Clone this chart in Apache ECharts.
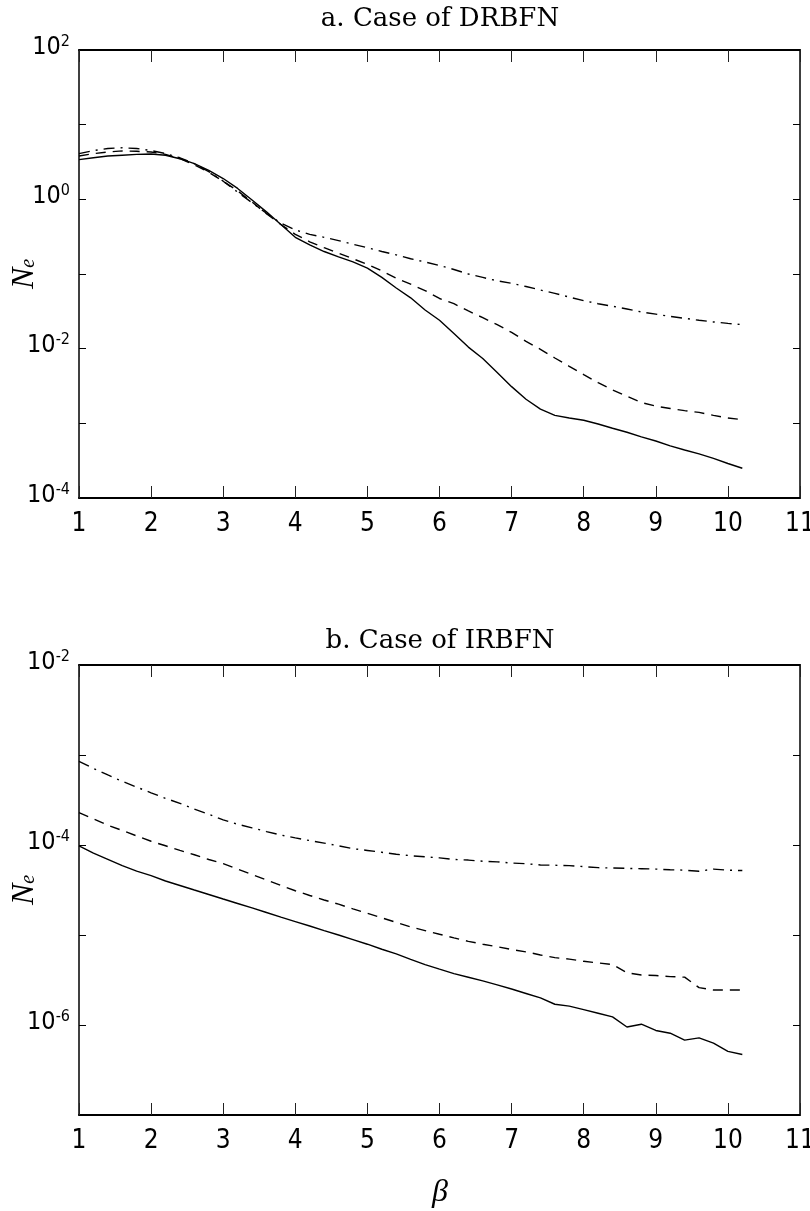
<!DOCTYPE html>
<html><head><meta charset="utf-8">
<script src="https://cdn.jsdelivr.net/npm/echarts@6/dist/echarts.min.js"></script>
<style>html,body{margin:0;padding:0;background:#fff}#c{width:810px;height:1211px}</style>
</head><body><div id="c"></div>
<script>
// ---------------- data ----------------
const beta = [1,1.2,1.4,1.6,1.8,2,2.2,2.4,2.6,2.8,3,3.2,3.4,3.6,3.8,4,4.2,4.4,4.6,4.8,5,5.2,5.4,5.6,5.8,6,6.2,6.4,6.6,6.8,7,7.2,7.4,7.6,7.8,8,8.2,8.4,8.6,8.8,9,9.2,9.4,9.6,9.8,10,10.2];
const xTickLabels = ['1','2','3','4','5','6','7','8','9','10','11'];
const panelTitles = ['a. Case of DRBFN', 'b. Case of IRBFN'];
const yName = 'N';
const ySub = 'e';
const xName = 'β';

// a. DRBFN
const drbfnSolid = [3.4,3.6,3.8,3.9,4.0,4.05,3.9,3.5,3.0,2.45,1.9,1.4,0.98,0.68,0.46,0.31,0.245,0.2,0.17,0.145,0.12,0.09,0.065,0.048,0.033,0.024,0.016,0.0105,0.0074,0.0048,0.0031,0.0021,0.00155,0.00128,0.00118,0.0011,0.00098,0.00086,0.00076,0.00066,0.00058,0.0005,0.00044,0.00039,0.00034,0.00029,0.00025];
const drbfnDashed = [3.8,4.1,4.3,4.45,4.4,4.3,4.0,3.5,2.9,2.3,1.75,1.3,0.92,0.64,0.46,0.34,0.27,0.225,0.19,0.16,0.135,0.11,0.088,0.073,0.06,0.047,0.04,0.032,0.026,0.021,0.0165,0.0125,0.0098,0.0075,0.0058,0.0045,0.0035,0.0028,0.0023,0.0019,0.0017,0.00158,0.00148,0.0014,0.00128,0.00118,0.00112];
const drbfnDashDot = [4.1,4.5,4.8,4.9,4.8,4.5,4.1,3.6,3.0,2.35,1.75,1.25,0.9,0.65,0.48,0.39,0.34,0.31,0.28,0.25,0.225,0.2,0.18,0.16,0.145,0.13,0.115,0.1,0.09,0.081,0.075,0.068,0.061,0.055,0.049,0.044,0.04,0.037,0.034,0.031,0.029,0.027,0.0255,0.024,0.0228,0.0218,0.021];

// b. IRBFN
const irbfnSolid = [9.77e-5,8.13e-5,6.92e-5,5.89e-5,5.13e-5,4.57e-5,3.98e-5,3.55e-5,3.16e-5,2.82e-5,2.51e-5,2.24e-5,2.0e-5,1.78e-5,1.58e-5,1.41e-5,1.26e-5,1.12e-5,1.0e-5,8.9e-6,7.9e-6,6.95e-6,6.17e-6,5.37e-6,4.68e-6,4.17e-6,3.72e-6,3.39e-6,3.09e-6,2.79e-6,2.51e-6,2.24e-6,2.0e-6,1.70e-6,1.62e-6,1.48e-6,1.35e-6,1.23e-6,9.5e-7,1.02e-6,8.7e-7,8.1e-7,6.8e-7,7.2e-7,6.3e-7,5.1e-7,4.7e-7];
const irbfnDashed = [2.29e-4,1.95e-4,1.66e-4,1.45e-4,1.26e-4,1.10e-4,9.8e-5,8.7e-5,7.8e-5,6.9e-5,6.2e-5,5.4e-5,4.7e-5,4.1e-5,3.55e-5,3.1e-5,2.75e-5,2.45e-5,2.2e-5,1.95e-5,1.74e-5,1.55e-5,1.38e-5,1.23e-5,1.12e-5,1.02e-5,9.3e-6,8.5e-6,7.9e-6,7.4e-6,6.9e-6,6.5e-6,6.0e-6,5.6e-6,5.4e-6,5.1e-6,4.9e-6,4.7e-6,3.8e-6,3.6e-6,3.55e-6,3.45e-6,3.4e-6,2.6e-6,2.45e-6,2.45e-6,2.45e-6];
const irbfnDashDot = [8.5e-4,7.1e-4,6.0e-4,5.1e-4,4.4e-4,3.8e-4,3.3e-4,2.9e-4,2.5e-4,2.2e-4,1.9e-4,1.7e-4,1.55e-4,1.41e-4,1.29e-4,1.2e-4,1.12e-4,1.05e-4,9.8e-5,9.1e-5,8.7e-5,8.3e-5,7.9e-5,7.6e-5,7.4e-5,7.2e-5,6.9e-5,6.8e-5,6.6e-5,6.5e-5,6.3e-5,6.2e-5,6.0e-5,5.95e-5,5.9e-5,5.75e-5,5.6e-5,5.55e-5,5.5e-5,5.45e-5,5.4e-5,5.3e-5,5.25e-5,5.1e-5,5.4e-5,5.25e-5,5.2e-5];

// y-axis ranges
const yRangeA = [1e-4, 1e2];
const yRangeB = [1e-7, 1e-2];

// ---------------- chart ----------------
const tickFont = "'Liberation Sans Narrow','Arial Narrow','DejaVu Sans Condensed',sans-serif";
const serif = "'DejaVu Serif','Liberation Serif',serif";

function yLabel(v) {
  const e = Math.round(Math.log10(v));
  return (e % 2 === 0) ? '{b|10}{s|' + e + '}' : '';
}
const yRich = {
  b: {fontFamily: tickFont, fontSize: 25, color: '#000', lineHeight: 26, verticalAlign: 'bottom'},
  s: {fontFamily: tickFont, fontSize: 16, color: '#000', lineHeight: 16, padding: [0, 0, 17, 0], verticalAlign: 'top'}
};
const nameRich = {
  n: {fontFamily: "'Liberation Serif',serif", fontStyle: 'italic', fontSize: 32, color: '#000', lineHeight: 30, verticalAlign: 'top'},
  s: {fontFamily: "'Liberation Serif',serif", fontStyle: 'italic', fontSize: 20, color: '#000', lineHeight: 16, padding: [17, 0, 0, 0], verticalAlign: 'bottom'}
};

function xAx(grid, pos) {
  return {
    gridIndex: grid, type: 'value', min: 1, max: 11, interval: 1, position: pos,
    axisLine: {show: true, onZero: false, lineStyle: {color: '#000', width: 2}},
    axisTick: {show: true, inside: true, length: 12, lineStyle: {color: '#222', width: 1}},
    axisLabel: pos === 'bottom' ? {
      show: true, margin: 13, color: '#000', fontFamily: tickFont, fontSize: 26,
      hideOverlap: false, showMinLabel: true, showMaxLabel: true,
      formatter: v => xTickLabels[Math.round(v) - 1]
    } : {show: false},
    splitLine: {show: false}
  };
}
function yAx(grid, pos, range, split) {
  const o = {
    gridIndex: grid, type: 'log', logBase: 10, min: range[0], max: range[1], splitNumber: split,
    position: pos,
    axisLine: {show: true, onZero: false, lineStyle: {color: '#000', width: 1.5}},
    axisTick: {show: true, inside: true, length: 7, lineStyle: {color: '#000', width: 1}},
    minorTick: {show: false},
    splitLine: {show: false},
    axisLabel: pos === 'left' ? {
      show: true, margin: 9, formatter: yLabel, rich: yRich, padding: [0, 0, 7, 0],
      hideOverlap: false, showMinLabel: true, showMaxLabel: true
    } : {show: false}
  };
  if (pos === 'left') {
    o.name = '{n|' + yName + '}{s|' + ySub + '}';
    o.nameLocation = 'middle';
    o.nameGap = 40;
    o.nameRotate = 90;
    o.nameMoveOverlap = false;
    o.nameTextStyle = {rich: nameRich};
  }
  return o;
}
function line(xi, yi, arr, type) {
  return {
    type: 'line', xAxisIndex: xi, yAxisIndex: yi, symbol: 'none', showSymbol: false,
    data: beta.map((x, i) => [x, arr[i]]),
    lineStyle: {color: '#000', width: 1.4, type: type},
    silent: true
  };
}

const chart = echarts.init(document.getElementById('c'), null, {renderer: 'canvas'});
chart.setOption({
  animation: false,
  backgroundColor: '#fff',
  grid: [
    {left: 79, top: 50, width: 721, height: 448, containLabel: false, outerBoundsMode: 'none'},
    {left: 79, top: 665, width: 721, height: 450, containLabel: false, outerBoundsMode: 'none'}
  ],
  xAxis: [xAx(0, 'bottom'), xAx(0, 'top'), xAx(1, 'bottom'), xAx(1, 'top')],
  yAxis: [yAx(0, 'left', yRangeA, 6), yAx(0, 'right', yRangeA, 6), yAx(1, 'left', yRangeB, 5), yAx(1, 'right', yRangeB, 5)],
  series: [
    line(0, 0, drbfnSolid, 'solid'),
    line(0, 0, drbfnDashed, [10, 7]),
    line(0, 0, drbfnDashDot, [11, 6, 2, 6]),
    line(2, 2, irbfnSolid, 'solid'),
    line(2, 2, irbfnDashed, [10, 7]),
    line(2, 2, irbfnDashDot, [11, 6, 2, 6])
  ],
  graphic: [
    {type: 'text', x: 440, y: 19, style: {text: panelTitles[0], fontFamily: serif, fontSize: 26, fill: '#000', align: 'center', verticalAlign: 'middle'}},
    {type: 'text', x: 440, y: 641, style: {text: panelTitles[1], fontFamily: serif, fontSize: 26, fill: '#000', align: 'center', verticalAlign: 'middle'}},
    {type: 'text', x: 440, y: 1193, style: {text: xName, fontFamily: "'Liberation Serif',serif", fontStyle: 'italic', fontSize: 32, fill: '#000', align: 'center', verticalAlign: 'middle'}}
  ]
});
</script>
</body></html>
